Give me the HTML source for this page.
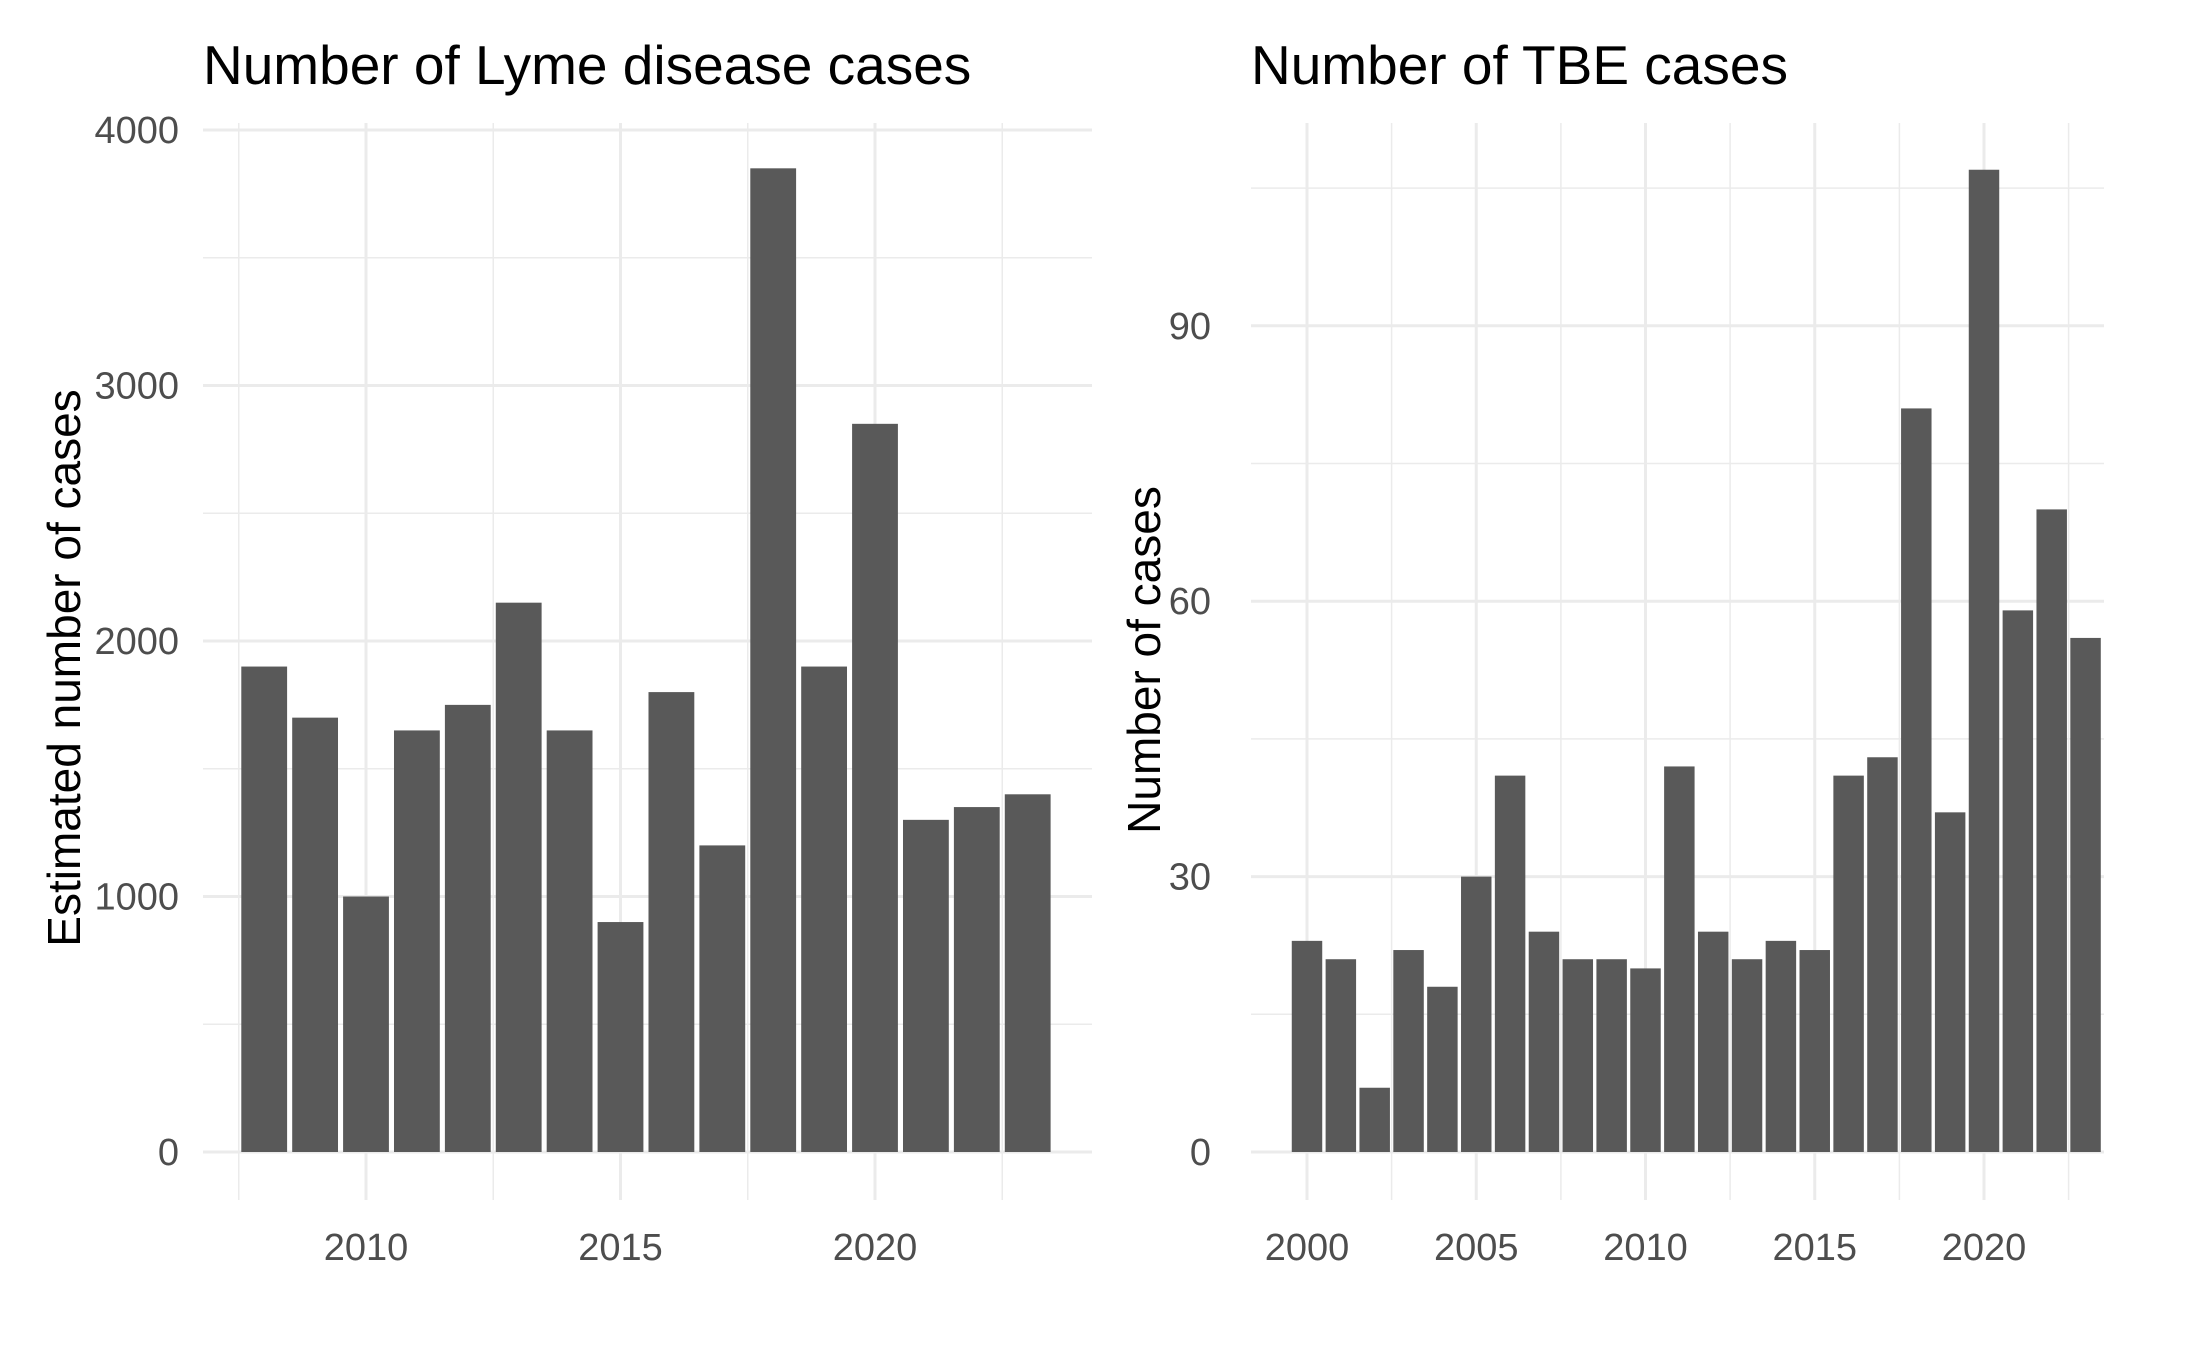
<!DOCTYPE html>
<html><head><meta charset="utf-8"><style>
body{margin:0;background:#fff}
svg text{font-family:"Liberation Sans",Arial,sans-serif}
</style></head><body>
<svg id="chart" width="2187" height="1350" viewBox="0 0 2187 1350" xmlns="http://www.w3.org/2000/svg">
<rect width="2187" height="1350" fill="#fff"/>
</svg>
<script>
const lymeYears = [2008,2009,2010,2011,2012,2013,2014,2015,2016,2017,2018,2019,2020,2021,2022,2023];
const lymeValues = [1900,1700,1000,1650,1750,2150,1650,900,1800,1200,3850,1900,2850,1300,1350,1400];
const lymeYTicks = [0,1000,2000,3000,4000];
const lymeYMinor = [500,1500,2500,3500];
const lymeXTicks = [2010,2015,2020];
const lymeXMinor = [2007.5,2012.5,2017.5,2022.5];

const tbeYears = [2000,2001,2002,2003,2004,2005,2006,2007,2008,2009,2010,2011,2012,2013,2014,2015,2016,2017,2018,2019,2020,2021,2022,2023];
const tbeValues = [23,21,7,22,18,30,41,24,21,21,20,42,24,21,23,22,41,43,81,37,107,59,70,56];
const tbeYTicks = [0,30,60,90];
const tbeYMinor = [15,45,75,105];
const tbeXTicks = [2000,2005,2010,2015,2020];
const tbeXMinor = [2002.5,2007.5,2012.5,2017.5,2022.5];

const NS="http://www.w3.org/2000/svg";
const svg=document.getElementById('chart');
function mk(tag,attrs,parent){const e=document.createElementNS(NS,tag);for(const k in attrs)e.setAttribute(k,attrs[k]);(parent||svg).appendChild(e);return e;}

function panel(cfg){
  const g=mk('g',{});
  
  
  const sx=v=>cfg.x0+(v-cfg.xv0)*cfg.xk;
  const sy=v=>cfg.y0-v*cfg.yk;
  cfg.yMinor.forEach(v=>{const l=mk('line',{x1:cfg.left,x2:cfg.right,y1:sy(v),y2:sy(v),stroke:'#ebebeb','stroke-width':1.5},g);
    
    });
  cfg.xMinor.forEach(v=>{const l=mk('line',{x1:sx(v),x2:sx(v),y1:cfg.top,y2:cfg.bottom,stroke:'#ebebeb','stroke-width':1.5},g);
    
    });
  cfg.yTicks.forEach(v=>{const l=mk('line',{x1:cfg.left,x2:cfg.right,y1:sy(v),y2:sy(v),stroke:'#ebebeb','stroke-width':3},g);
    
    
    const t=mk('text',{x:cfg.tickRight,y:sy(v)+13,'text-anchor':'end','font-size':38,fill:'#4d4d4d'},g);t.textContent=v;
    
    });
  cfg.xTicks.forEach(v=>{const l=mk('line',{x1:sx(v),x2:sx(v),y1:cfg.top,y2:cfg.bottom,stroke:'#ebebeb','stroke-width':3},g);
    
    
    const t=mk('text',{x:sx(v),y:1260,'text-anchor':'middle','font-size':38,fill:'#4d4d4d'},g);t.textContent=v;
    
    });
  cfg.years.forEach((yr,i)=>{const v=cfg.values[i];
    const r=mk('rect',{x:sx(yr-0.45),y:sy(v),width:0.9*cfg.xk,height:sy(0)-sy(v),fill:'#595959'},g);
    
    });
  const ti=mk('text',{x:cfg.left,y:84,'font-size':55,fill:'#000'},g);ti.textContent=cfg.title;
  
  
  const yt=mk('text',{x:0,y:0,'font-size':46,fill:'#000','text-anchor':'middle',transform:`translate(${cfg.ytx},${cfg.ytc}) rotate(-90)`},g);yt.textContent=cfg.ytitle;
  
  
}
panel({name:'lyme-panel',title:'Number of Lyme disease cases',ytitle:'Estimated number of cases',
  years:lymeYears,values:lymeValues,yTicks:lymeYTicks,yMinor:lymeYMinor,xTicks:lymeXTicks,xMinor:lymeXMinor,
  x0:366,xv0:2010,xk:50.9,y0:1152,yk:0.2555,left:203,right:1092,top:123,bottom:1200,ytx:80,ytc:668,tickRight:179});
panel({name:'tbe-panel',title:'Number of TBE cases',ytitle:'Number of cases',
  years:tbeYears,values:tbeValues,yTicks:tbeYTicks,yMinor:tbeYMinor,xTicks:tbeXTicks,xMinor:tbeXMinor,
  x0:1307,xv0:2000,xk:33.85,y0:1152,yk:9.18,left:1251,right:2104,top:123,bottom:1200,ytx:1160,ytc:660,tickRight:1211});
</script>
</body></html>
